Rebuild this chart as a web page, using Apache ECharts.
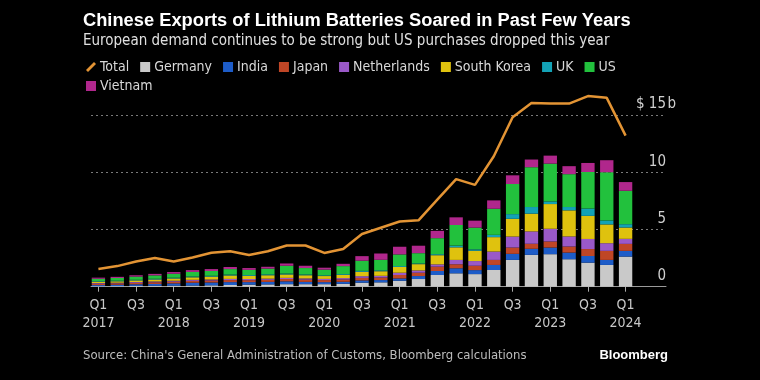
<!DOCTYPE html>
<html>
<head>
<meta charset="utf-8">
<script src="https://cdn.jsdelivr.net/npm/echarts@6/dist/echarts.min.js"></script>
<style>
html,body{margin:0;padding:0;background:#000;}
#chart{width:760px;height:380px;}
</style>
</head>
<body>
<div id="chart"></div>
<script>
const categories = ["Q1 2017","Q2 2017","Q3 2017","Q4 2017","Q1 2018","Q2 2018","Q3 2018","Q4 2018",
  "Q1 2019","Q2 2019","Q3 2019","Q4 2019","Q1 2020","Q2 2020","Q3 2020","Q4 2020",
  "Q1 2021","Q2 2021","Q3 2021","Q4 2021","Q1 2022","Q2 2022","Q3 2022","Q4 2022",
  "Q1 2023","Q2 2023","Q3 2023","Q4 2023","Q1 2024"];
const germany     = [0.04,0.05,0.07,0.08,0.09,0.10,0.12,0.15,0.18,0.20,0.22,0.22,0.22,0.25,0.35,0.38,0.52,0.67,1.02,1.17,1.10,1.46,2.34,2.78,2.84,2.40,2.10,1.90,2.63];
const india       = [0.10,0.12,0.14,0.16,0.20,0.25,0.25,0.25,0.22,0.22,0.25,0.20,0.18,0.18,0.20,0.20,0.20,0.26,0.35,0.44,0.35,0.44,0.53,0.53,0.58,0.58,0.58,0.44,0.50];
const japan       = [0.12,0.12,0.13,0.14,0.15,0.16,0.17,0.18,0.17,0.18,0.20,0.20,0.18,0.20,0.22,0.22,0.30,0.29,0.38,0.35,0.38,0.44,0.55,0.44,0.53,0.53,0.61,0.79,0.61];
const netherlands = [0.06,0.06,0.07,0.08,0.08,0.09,0.09,0.10,0.10,0.10,0.10,0.10,0.10,0.12,0.15,0.15,0.20,0.20,0.20,0.38,0.41,0.73,0.96,1.08,1.11,0.88,0.88,0.67,0.44];
const southKorea  = [0.12,0.12,0.14,0.17,0.20,0.22,0.25,0.30,0.28,0.30,0.30,0.28,0.25,0.28,0.38,0.40,0.50,0.55,0.80,1.10,0.90,1.26,1.55,1.55,2.16,2.28,2.02,1.64,0.99];
const uk          = [0.05,0.05,0.05,0.06,0.06,0.07,0.07,0.08,0.07,0.08,0.08,0.07,0.06,0.07,0.08,0.08,0.08,0.06,0.09,0.15,0.12,0.20,0.41,0.58,0.23,0.29,0.64,0.35,0.29];
const us          = [0.20,0.24,0.28,0.30,0.35,0.40,0.42,0.48,0.45,0.50,0.68,0.56,0.50,0.70,0.89,0.92,1.02,0.90,1.40,1.80,1.90,2.28,2.63,3.48,3.30,2.87,3.19,4.21,2.92];
const vietnam     = [0.10,0.10,0.12,0.13,0.15,0.16,0.17,0.18,0.16,0.16,0.20,0.20,0.17,0.20,0.40,0.55,0.67,0.65,0.64,0.67,0.61,0.73,0.76,0.67,0.70,0.70,0.79,1.05,0.76];
const total       = [1.55,1.80,2.20,2.50,2.20,2.55,2.97,3.10,2.77,3.10,3.60,3.60,2.95,3.30,4.60,5.15,5.70,5.80,7.60,9.40,8.90,11.40,14.80,16.05,16.00,16.00,16.65,16.50,13.20];
const yTicks = [0, 5, 10, 15];

const FONT = "'Liberation Sans Narrow','DejaVu Sans Condensed','Liberation Sans',sans-serif";
const barSeries = [
  ["Germany", germany, "#c9c9c9"],
  ["India", india, "#1d5cc8"],
  ["Japan", japan, "#bf4626"],
  ["Netherlands", netherlands, "#9a59c8"],
  ["South Korea", southKorea, "#dfc20e"],
  ["UK", uk, "#13a2b6"],
  ["US", us, "#22c13d"],
  ["Vietnam", vietnam, "#b0278c"]
];

const chart = echarts.init(document.getElementById('chart'), null, {renderer: 'canvas'});
const series = [{
  name: "Total", type: "line", data: total, xAxisIndex: 0, yAxisIndex: 0,
  symbol: "none", clip: false, z: 5,
  lineStyle: {color: "#e39434", width: 2.5}, itemStyle: {color: "#e39434"}
}];
barSeries.forEach(([name, data, color]) => {
  series.push({
    name, type: "bar", stack: "c", data, xAxisIndex: 0, yAxisIndex: 0,
    barWidth: "71%", itemStyle: {color}
  });
});

chart.setOption({
  backgroundColor: "#000",
  animation: false,
  title: {
    left: 78, top: 7,
    text: "Chinese Exports of Lithium Batteries Soared in Past Few Years",
    textStyle: {color: "#fff", fontSize: 18.3, fontWeight: "bold", fontFamily: "'Liberation Sans',sans-serif"},
    subtext: "European demand continues to be strong but US purchases dropped this year",
    subtextStyle: {color: "#e0e0e0", fontSize: 15, fontFamily: FONT},
    itemGap: 4
  },
  legend: {
    left: 81, top: 55, width: 550,
    itemWidth: 10, itemHeight: 10, itemGap: 5,
    textStyle: {color: "#d8d8d8", fontSize: 14, lineHeight: 12, fontFamily: FONT, padding: [0, 6, 0, -1]},
    data: [
      {name: "Total", icon: "path://M0,9L8,1L10,3L2,11Z"},
      "Germany","India","Japan","Netherlands","South Korea","UK","US","Vietnam"
    ].map(d => typeof d === "string" ? {name: d, icon: "rect"} : d)
  },
  grid: [
    {left: 89, right: 125, top: 115, bottom: 93.3},
    {left: 91, right: 94, top: 115, bottom: 93.3}
  ],
  xAxis: [
    {
      type: "category", gridIndex: 0, data: categories,
      axisLine: {show: false},
      axisTick: {show: true, interval: 1, alignWithLabel: true, length: 5, lineStyle: {color: "#aaa"}},
      axisLabel: {
        interval: 1, color: "#c8c8c8", fontSize: 14, fontFamily: FONT, lineHeight: 18, margin: 10,
        formatter: v => { const [q, y] = v.split(" "); return q === "Q1" ? q + "\n" + y : q; }
      }
    },
    {
      type: "value", gridIndex: 1, min: 0, max: 1,
      axisLine: {show: true, lineStyle: {color: "#9a9a9a", width: 1}},
      axisTick: {show: false}, axisLabel: {show: false}, splitLine: {show: false}
    }
  ],
  yAxis: [
    {type: "value", gridIndex: 0, min: 0, max: 15, interval: 5, show: false},
    {
      type: "value", gridIndex: 1, min: 0, max: 15, interval: 5, position: "right",
      axisLine: {show: false}, axisTick: {show: false},
      splitLine: {show: true, lineStyle: {color: "#7a7a7a", type: [2, 3], width: 1}},
      axisLabel: {
        inside: true, margin: -10, verticalAlign: "bottom", color: "#cfcfcf", fontSize: 15, fontFamily: FONT,
        padding: [0, 0, 3, 0],
        formatter: v => yTicks.indexOf(v) === yTicks.length - 1 ? "{n|$ " + v + "}{u|b}" : "{n|" + v + "}{p|}",
        rich: {
          n: {color: "#cfcfcf", fontSize: 15, fontFamily: FONT},
          u: {color: "#cfcfcf", fontSize: 15, fontFamily: FONT, width: 10},
          p: {width: 10}
        }
      }
    }
  ],
  graphic: [
    {type: "text", left: 83, top: 349,
     style: {text: "Source: China's General Administration of Customs, Bloomberg calculations",
             fill: "#bdbdbd", fontSize: 13, fontFamily: FONT}},
    {type: "text", right: 92, top: 349,
     style: {text: "Bloomberg", fill: "#fff", fontSize: 13, fontWeight: "bold", fontFamily: "'Liberation Sans',sans-serif"}}
  ],
  series
});
</script>
</body>
</html>
